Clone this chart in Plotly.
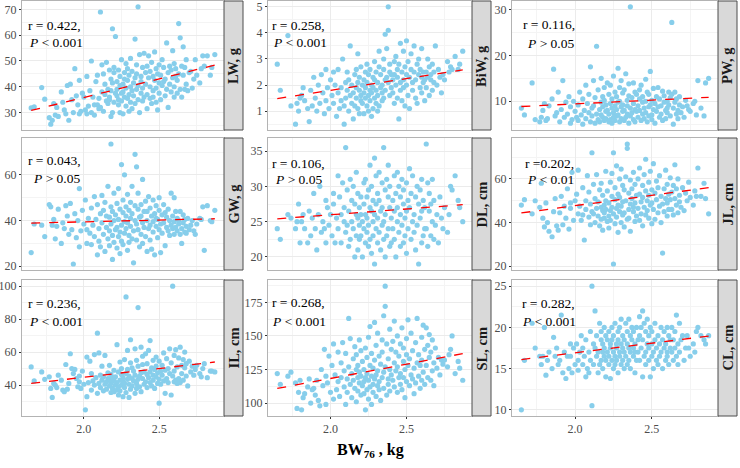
import plotly.graph_objects as go

# ---------------- data ----------------
bw76 = [1.65, 1.67, 1.72, 1.74, 1.77, 1.78, 1.79, 1.80,
        1.81, 1.82, 1.83, 1.85, 1.86, 1.87, 1.88, 1.89, 1.90, 1.91,
        1.92, 1.93, 1.94, 1.95, 1.96, 1.97, 1.97, 1.98, 1.99, 2.00,
        2.01, 2.02, 2.02, 2.03, 2.04, 2.05, 2.05, 2.06, 2.07, 2.07,
        2.08, 2.09, 2.09, 2.10, 2.10, 2.11, 2.11, 2.12, 2.12, 2.13,
        2.13, 2.14, 2.14, 2.15, 2.15, 2.16, 2.16, 2.17, 2.17, 2.17,
        2.18, 2.18, 2.18, 2.19, 2.19, 2.19, 2.20, 2.20, 2.20, 2.21,
        2.21, 2.22, 2.22, 2.22, 2.23, 2.23, 2.23, 2.24, 2.24, 2.24,
        2.25, 2.25, 2.25, 2.26, 2.26, 2.26, 2.27, 2.27, 2.27, 2.28,
        2.28, 2.28, 2.29, 2.29, 2.29, 2.30, 2.30, 2.30, 2.31, 2.31,
        2.31, 2.32, 2.32, 2.32, 2.33, 2.33, 2.34, 2.34, 2.34, 2.35,
        2.35, 2.35, 2.36, 2.36, 2.36, 2.37, 2.37, 2.38, 2.38, 2.38,
        2.39, 2.39, 2.39, 2.40, 2.40,
        2.41, 2.41, 2.42, 2.42, 2.42, 2.43, 2.43, 2.44, 2.44, 2.44,
        2.45, 2.45, 2.46, 2.46, 2.46, 2.47, 2.47, 2.48, 2.48, 2.48,
        2.49, 2.49, 2.50, 2.50, 2.50, 2.51, 2.51, 2.52, 2.52, 2.53,
        2.53, 2.54, 2.54, 2.55, 2.55, 2.56, 2.56, 2.57, 2.57, 2.58,
        2.58, 2.59, 2.59, 2.60, 2.60, 2.60, 2.61, 2.61, 2.62, 2.62,
        2.63, 2.63, 2.64, 2.64, 2.65, 2.65, 2.66, 2.66, 2.67, 2.67,
        2.68, 2.68, 2.69, 2.70, 2.71, 2.72, 2.73, 2.74, 2.75, 2.77,
        2.78, 2.79,
        2.80, 2.82, 2.84, 2.85, 2.87]

lw = [31.8, 32.2, 39.7, 35.2, 28.0, 25.5, 27.0, 33.5,
      29.0, 32.0, 28.5, 38.0, 34.0, 31.0, 29.5, 40.5, 27.0, 41.0,
      35.0, 30.0, 47.0, 36.5, 33.0, 29.5, 42.5, 30.5, 37.5, 36.0,
      31.0, 29.5, 44.0, 32.5, 38.5, 50.0, 30.0, 36.0, 33.0, 29.0,
      42.0, 33.0, 44.5, 31.5, 35.5, 69.0, 32.0, 48.5, 38.0, 30.5,
      45.0, 37.0, 41.0, 34.5, 49.5, 33.5, 39.0, 36.0, 46.5, 35.0,
      43.0, 28.5, 38.5, 41.5, 30.0, 62.5, 47.5, 34.0, 45.5, 37.5,
      59.5, 36.5, 39.0, 42.0, 33.0, 46.5, 35.0, 40.5, 30.0, 44.0,
      37.5, 50.5, 34.5, 41.0, 38.0, 29.5, 45.5, 36.0, 43.0, 49.0,
      39.5, 32.5, 47.0, 35.5, 42.5, 37.0, 30.5, 44.5, 40.0, 34.0,
      51.0, 38.5, 31.5, 46.0, 41.5, 36.5, 58.5, 43.5, 33.5, 48.5,
      39.0, 45.0, 35.0, 71.0, 40.5, 30.0, 52.5, 37.5, 44.0, 42.0,
      34.5, 47.5, 39.5, 53.0, 36.0,
      41.0, 45.5, 31.5, 48.0, 37.0, 43.5, 52.0, 35.5, 40.0, 46.0,
      33.5, 49.5, 38.5, 44.0, 36.0, 42.5, 53.5, 34.0, 47.0, 39.5,
      45.0, 31.0, 41.5, 48.5, 37.5, 44.5, 35.0, 50.5, 40.5, 42.0,
      47.5, 36.5, 43.0, 57.0, 39.0, 45.5, 32.0, 48.0, 41.0, 46.5,
      38.0, 54.0, 43.5, 36.0, 49.0, 40.0, 44.0, 47.0, 37.5, 42.5,
      64.5, 45.0, 59.0, 39.0, 48.0, 36.0, 55.5, 44.5, 39.0, 47.5,
      41.0, 50.5, 38.5, 45.5, 46.0, 39.5, 43.0, 50.5, 44.5, 41.5,
      47.0, 52.0,
      48.0, 52.0, 44.5, 47.5, 52.5]

biw = [2.8, 1.8, 3.9, 1.2, 0.5, 1.3, 1.0, 1.5,
       1.6, 1.9, 1.4, 1.1, 0.6, 1.8, 1.2, 2.3, 1.5, 1.0,
       2.0, 1.3, 2.4, 1.7, 0.9, 2.6, 1.4, 1.9, 1.1, 2.2,
       1.6, 2.5, 1.3, 2.0, 0.8, 1.7, 2.6, 1.1, 1.9, 1.4,
       3.0, 1.2, 0.5, 2.1, 1.5, 1.8, 2.5, 1.0, 2.2, 1.6,
       3.5, 1.3, 2.0, 0.7, 1.7, 2.4, 1.2, 1.9, 2.6, 1.5,
       3.2, 1.1, 2.1, 1.8, 0.9, 2.3, 1.4, 2.7, 1.6, 2.0,
       1.3, 2.2, 1.7, 0.9, 2.5, 1.5, 1.9, 2.8, 1.2, 2.1,
       1.6, 1.0, 2.4, 1.8, 1.4, 2.6, 0.8, 2.0, 1.7, 2.3,
       1.1, 1.9, 2.9, 1.5, 2.2, 1.3, 1.8, 2.5, 1.0, 2.1,
       1.6, 2.7, 1.2, 3.3, 1.9, 2.4, 1.4, 2.0, 1.7, 3.0,
       2.6, 1.5, 3.95, 2.2, 1.8, 3.4, 2.3, 5.0, 4.1, 2.1,
       1.6, 2.5, 2.8, 1.9, 2.4,
       2.2, 1.7, 2.9, 2.4, 1.3, 2.0, 3.1, 2.6, 1.5, 2.3,
       0.7, 2.8, 2.1, 1.8, 3.6, 2.5, 1.4, 2.2, 3.3, 1.9,
       2.7, 1.2, 2.4, 3.7, 2.0, 1.6, 2.9, 2.3, 1.1, 2.6,
       3.2, 2.1, 1.8, 2.5, 3.5, 1.5, 2.2, 2.8, 1.3, 2.4,
       3.0, 1.9, 2.6, 2.3, 1.7, 3.4, 2.1, 2.5, 1.4, 2.2,
       1.9, 2.5, 3.0, 2.3, 1.6, 2.7, 2.2, 2.4, 1.8, 2.8,
       2.1, 2.5, 3.5, 2.0, 2.6, 2.3, 1.7, 2.4, 2.2, 2.9,
       2.5, 2.7,
       2.6, 3.1, 2.6, 2.8, 3.3]

pw = [8.5, 7.0, 14.0, 6.0, 5.5, 6.5, 8.0, 9.5,
      5.8, 6.2, 9.0, 10.5, 17.0, 6.8, 7.5, 12.0, 5.5, 8.2,
      14.5, 6.5, 9.8, 7.2, 11.0, 5.2, 8.8, 6.0, 10.0, 7.8,
      6.5, 9.2, 5.8, 12.0, 7.0, 10.5, 5.0, 8.0, 13.5, 6.2,
      9.5, 7.5, 11.5, 5.5, 17.5, 8.5, 6.8, 14.5, 9.0, 5.2,
      10.8, 7.2, 22.0, 6.0, 12.5, 8.2, 5.5, 9.8, 15.0, 7.0,
      11.0, 6.5, 8.8, 13.0, 5.8, 10.2, 7.8, 9.2, 6.2, 14.0,
      8.0, 5.5, 11.5, 7.2, 9.5, 6.0, 13.5, 8.5, 5.2, 10.5,
      7.5, 15.5, 6.5, 9.0, 12.0, 5.8, 8.2, 11.0, 6.8, 17.2,
      9.8, 7.0, 13.0, 5.5, 10.0, 8.8, 6.2, 14.5, 7.8, 11.8,
      9.2, 5.8, 12.5, 8.0, 6.5, 16.0, 10.2, 7.2, 9.0, 13.8,
      5.2, 11.2, 8.5, 30.6, 6.8, 10.8, 7.5, 14.0, 9.5, 6.0,
      12.0, 8.2, 5.5, 11.5, 7.8,
      9.0, 6.5, 12.5, 8.0, 10.5, 5.8, 13.5, 7.2, 9.8, 11.0,
      6.2, 8.5, 14.8, 7.5, 10.0, 5.5, 12.0, 8.8, 6.8, 11.5,
      9.2, 16.5, 7.0, 10.2, 6.0, 12.8, 8.2, 9.5, 5.2, 11.0,
      7.8, 13.0, 8.8, 6.5, 10.5, 9.0, 7.2, 12.2, 5.8, 9.8,
      11.2, 8.0, 6.2, 10.0, 7.5, 8.5, 12.0, 9.2, 6.8, 10.8,
      11.5, 27.2, 8.5, 5.0, 9.8, 12.0, 7.2, 10.5, 8.0, 6.2,
      9.2, 11.0, 7.5, 8.8, 6.5, 10.2, 9.0, 8.2, 7.8, 9.5,
      10.0, 7.0,
      14.5, 8.5, 6.8, 14.0, 15.0]

gw = [26.0, 38.5, 38.0, 33.0, 47.0, 46.0, 38.0, 40.5,
      32.0, 37.5, 45.0, 30.0, 39.0, 36.5, 46.5, 42.0, 34.0, 47.5,
      36.0, 21.0, 43.0, 32.5, 40.0, 28.5, 54.0, 35.5, 44.5, 38.5,
      49.0, 36.0, 30.0, 41.0, 34.5, 45.5, 29.5, 38.0, 50.5, 33.0,
      40.5, 25.0, 47.0, 36.5, 31.0, 43.0, 28.5, 51.0, 39.0, 34.0,
      44.5, 26.5, 48.0, 37.0, 42.0, 32.0, 55.0, 35.5, 41.5, 29.0,
      46.0, 73.5, 38.5, 33.5, 23.0, 44.0, 40.0, 30.5, 52.0, 36.0,
      42.5, 28.0, 47.5, 37.0, 33.0, 54.0, 40.5, 25.5, 45.0, 35.0,
      64.5, 38.0, 31.0, 43.5, 49.0, 29.5, 39.5, 60.0, 34.5, 46.0,
      36.5, 42.0, 27.0, 51.5, 39.0, 33.5, 44.5, 30.5, 48.0, 41.0,
      37.5, 55.0, 32.0, 43.0, 35.5, 21.5, 46.5, 40.0, 69.0, 38.5,
      63.5, 31.5, 45.0, 36.0, 52.0, 41.5, 28.5, 47.0, 34.0, 42.0,
      39.0, 58.0, 30.0, 44.0, 37.0,
      33.0, 48.5, 40.0, 26.5, 44.0, 36.5, 50.5, 38.0, 31.5, 45.5,
      42.0, 27.5, 39.5, 49.0, 35.0, 43.0, 25.0, 41.0, 37.5, 46.5,
      32.5, 40.5, 50.0, 36.0, 44.5, 26.0, 38.5, 42.5, 34.5, 47.0,
      39.0, 29.0, 43.5, 37.0, 41.5, 35.5, 45.0, 33.5, 40.0, 52.0,
      38.0, 36.5, 42.0, 50.0, 34.0, 39.5, 44.0, 37.0, 41.0, 35.5,
      40.0, 38.5, 34.0, 44.0, 36.5, 30.0, 39.0, 42.5, 35.0, 40.5,
      37.5, 34.5, 41.0, 36.0, 38.0, 40.0, 35.5, 34.0, 38.5, 41.0,
      40.5, 46.0,
      27.0, 46.5, 40.0, 39.5, 44.5]

dl = [24.0, 22.5, 26.0, 25.5, 24.0, 25.0, 27.5, 22.0,
      25.0, 26.0, 24.0, 22.0, 26.5, 23.0, 25.5, 29.0, 24.0, 21.0,
      26.0, 30.0, 23.5, 25.0, 24.0, 28.0, 22.0, 27.0, 24.5, 26.0,
      23.0, 27.5, 29.0, 22.0, 25.5, 31.5, 24.0, 28.5, 26.0, 22.0,
      30.5, 25.0, 27.0, 35.5, 23.5, 29.5, 24.5, 21.5, 26.5, 31.0,
      22.5, 28.0, 25.0, 30.0, 24.0, 20.0, 27.5, 23.0, 26.0, 32.0,
      25.5, 21.0, 29.0, 24.5, 27.0, 22.5, 26.0, 28.5, 23.0, 20.0,
      25.0, 30.5, 24.0, 27.5, 22.0, 26.0, 31.0, 23.5, 28.5, 25.5,
      21.5, 29.5, 24.5, 27.0, 33.0, 22.5, 26.5, 20.5, 30.0, 25.0,
      28.0, 23.0, 34.0, 19.0, 26.0, 31.5, 24.0, 27.5, 22.0, 29.0,
      25.5, 32.0, 23.5, 28.0, 21.0, 26.5, 30.5, 24.5, 27.0, 22.5,
      35.5, 25.0, 29.5, 20.0, 26.0, 31.0, 23.0, 28.5, 24.0, 33.0,
      27.0, 21.5, 30.0, 25.5, 22.0,
      28.0, 24.0, 31.5, 26.5, 22.5, 29.0, 20.0, 27.0, 32.0, 25.0,
      23.5, 30.0, 26.0, 21.5, 28.5, 24.5, 31.0, 27.5, 22.0, 29.5,
      25.5, 23.0, 30.5, 26.5, 20.5, 28.0, 24.0, 32.5, 27.0, 22.5,
      29.0, 25.0, 31.5, 23.5, 26.0, 28.5, 21.0, 30.0, 24.5, 27.5,
      19.0, 29.5, 25.5, 22.0, 31.0, 26.5, 23.0, 28.0, 24.0, 27.0,
      36.0, 24.0, 30.5, 21.5, 26.5, 29.0, 23.0, 27.5, 25.0, 31.0,
      22.5, 28.0, 24.5, 26.0, 22.0, 28.5, 25.5, 24.0, 27.0, 23.5,
      26.0, 30.0,
      29.5, 31.5, 28.0, 27.0, 25.0]

jl = [48.0, 50.5, 44.0, 50.0, 47.0, 58.0, 42.0, 38.0,
      49.0, 40.0, 36.0, 33.5, 45.0, 51.0, 38.5, 36.5, 44.5, 52.0,
      39.0, 47.5, 42.0, 55.5, 37.0, 49.0, 46.5, 63.0, 41.0, 50.0,
      53.0, 44.0, 64.0, 47.5, 41.0, 56.0, 43.5, 32.0, 50.0, 46.0,
      61.5, 42.5, 54.0, 39.0, 48.5, 45.0, 72.0, 44.0, 57.5, 40.0,
      51.0, 46.5, 62.0, 43.0, 49.5, 38.5, 55.0, 47.0, 41.5, 58.0,
      45.5, 36.5, 52.5, 44.5, 48.0, 42.0, 63.5, 50.0, 46.0, 40.5,
      54.5, 43.0, 49.0, 37.5, 58.5, 45.5, 41.0, 62.5, 47.0, 52.0,
      21.0, 72.0, 44.0, 50.5, 39.5, 56.0, 46.5, 66.0, 42.5, 53.0,
      48.0, 35.5, 60.0, 45.0, 51.5, 40.0, 64.5, 47.5, 43.5, 57.0,
      49.5, 38.0, 55.0, 44.5, 61.0, 50.0, 41.5, 76.0, 74.0, 46.0,
      53.5, 42.0, 59.5, 48.5, 36.0, 55.5, 51.0, 45.0, 63.0, 47.0,
      40.5, 57.5, 49.0, 43.0, 52.5,
      60.0, 46.5, 53.0, 41.0, 65.0, 49.5, 44.0, 57.0, 51.5, 38.5,
      62.0, 47.0, 54.5, 43.5, 69.0, 50.0, 45.5, 58.5, 42.0, 52.5,
      48.0, 63.5, 55.0, 39.5, 49.0, 67.0, 46.0, 53.5, 41.5, 59.0,
      50.5, 44.5, 56.0, 47.5, 61.5, 52.0, 40.0, 48.5, 26.0, 55.5,
      45.0, 64.0, 51.0, 43.0, 57.5, 49.0, 53.0, 46.0, 60.5, 50.5,
      54.0, 46.0, 57.0, 43.5, 66.5, 51.0, 48.0, 55.5, 44.5, 60.0,
      49.5, 52.5, 47.0, 56.0, 45.5, 53.5, 50.0, 58.5, 51.5, 48.0,
      54.5, 52.0,
      65.0, 52.0, 58.0, 51.0, 44.0]

il = [51.0, 42.5, 48.0, 43.5, 45.0, 38.0, 32.5, 41.0,
      40.0, 38.5, 46.0, 43.0, 37.0, 36.0, 52.5, 37.5, 41.0, 59.0,
      50.0, 47.0, 49.5, 44.0, 39.0, 42.0, 45.5, 38.0, 48.5, 40.5,
      25.0, 33.0, 57.0, 41.5, 54.5, 47.0, 37.0, 42.5, 58.5, 40.0,
      44.5, 35.0, 71.5, 41.0, 59.5, 38.5, 46.0, 43.0, 51.5, 36.5,
      45.0, 40.5, 58.0, 42.0, 37.5, 47.5, 44.0, 39.5, 52.0, 43.5,
      35.5, 41.0, 46.5, 38.0, 44.5, 42.5, 49.0, 36.0, 43.0, 40.0,
      45.0, 37.0, 64.5, 41.5, 34.0, 48.0, 39.0, 54.0, 43.0, 36.5,
      46.5, 40.0, 50.0, 33.0, 44.5, 42.0, 38.5, 55.5, 41.0, 93.5,
      47.0, 35.5, 61.0, 43.5, 49.5, 32.5, 45.5, 40.5, 53.5, 37.5,
      67.5, 44.0, 39.5, 50.5, 42.5, 48.5, 35.0, 62.0, 46.0, 41.0,
      55.0, 38.0, 87.0, 43.5, 51.5, 45.5, 39.0, 63.0, 47.5, 36.0,
      52.5, 44.0, 57.5, 40.5, 48.0,
      42.0, 59.0, 46.5, 38.5, 53.0, 44.5, 61.0, 48.0, 41.5, 67.0,
      50.5, 39.5, 46.0, 55.0, 43.0, 49.5, 38.0, 57.0, 45.0, 51.5,
      41.0, 47.5, 29.0, 54.5, 43.5, 48.5, 40.5, 52.0, 46.0, 59.5,
      42.5, 49.0, 35.0, 56.0, 44.0, 50.0, 41.5, 62.0, 47.0, 34.0,
      53.5, 45.5, 100.0, 42.0, 58.0, 48.5, 43.0, 61.5, 41.0, 51.0,
      56.5, 44.0, 63.0, 41.5, 52.0, 47.0, 55.5, 43.0, 50.5, 60.0,
      45.5, 53.0, 39.5, 54.5, 48.0, 51.5, 46.0, 49.5, 52.0, 47.0,
      45.0, 50.0,
      53.0, 44.5, 48.5, 48.5, 48.0]

sl = [122.0, 114.0, 120.0, 123.0, 115.0, 96.0, 108.0, 117.0,
      95.0, 104.0, 107.0, 112.0, 118.0, 100.0, 110.0, 111.0, 106.0, 117.0,
      102.0, 98.0, 125.0, 113.0, 140.0, 120.0, 99.0, 115.0, 135.0, 108.0,
      128.0, 103.0, 144.0, 121.0, 110.0, 138.0, 116.0, 105.0, 130.0, 119.0,
      145.0, 112.0, 124.0, 99.0, 137.0, 118.0, 108.0, 163.0, 127.0, 114.0,
      148.0, 122.0, 104.0, 133.0, 117.0, 142.0, 111.0, 125.0, 101.0, 136.0,
      119.0, 128.0, 109.0, 147.0, 115.0, 123.0, 106.0, 139.0, 120.0, 113.0,
      131.0, 107.0, 125.0, 116.0, 95.0, 141.0, 119.0, 110.0, 134.0, 122.0,
      103.0, 149.0, 117.0, 128.0, 112.0, 157.0, 120.0, 99.0, 137.0, 114.0,
      126.0, 108.0, 160.0, 118.0, 132.0, 105.0, 143.0, 121.0, 113.0, 152.0,
      124.0, 110.0, 135.0, 116.0, 129.0, 102.0, 147.0, 119.0, 138.0, 111.0,
      165.0, 123.0, 187.0, 172.0, 127.0, 106.0, 144.0, 118.0, 133.0, 114.0,
      155.0, 125.0, 109.0, 140.0, 121.0,
      146.0, 117.0, 130.0, 112.0, 161.0, 124.0, 138.0, 108.0, 127.0, 150.0,
      119.0, 135.0, 114.0, 144.0, 122.0, 156.0, 110.0, 131.0, 119.0, 141.0,
      125.0, 104.0, 148.0, 116.0, 136.0, 128.0, 162.0, 113.0, 133.0, 121.0,
      152.0, 118.0, 139.0, 107.0, 126.0, 145.0, 115.0, 130.0, 163.0, 120.0,
      136.0, 111.0, 128.0, 149.0, 117.0, 132.0, 158.0, 123.0, 140.0, 114.0,
      156.0, 128.0, 143.0, 119.0, 151.0, 134.0, 117.0, 138.0, 124.0, 147.0,
      130.0, 113.0, 141.0, 126.0, 134.0, 121.0, 132.0, 129.0, 132.0, 127.0,
      136.0, 140.0,
      150.0, 122.0, 131.0, 126.0, 117.0]

cl = [10.0, 16.0, 20.5, 17.5, 16.5, 15.5, 16.5, 20.0,
      14.2, 16.0, 17.0, 15.0, 18.8, 16.5, 17.5, 15.5, 16.0, 21.5,
      14.5, 17.0, 13.8, 16.5, 15.0, 18.0, 16.5, 14.5, 17.5, 15.5,
      18.0, 16.0, 14.8, 17.0, 19.0, 15.5, 17.5, 16.5, 14.0, 18.5,
      15.0, 17.0, 14.5, 19.5, 16.0, 25.0, 10.5, 18.0, 15.5, 17.5,
      22.0, 16.5, 19.0, 14.5, 17.0, 20.5, 15.5, 18.5, 16.0, 19.5,
      17.0, 15.0, 18.0, 20.0, 16.5, 17.5, 14.0, 19.0, 16.0, 18.5,
      17.0, 15.5, 19.5, 16.5, 18.0, 13.8, 17.5, 20.0, 16.0, 18.5,
      15.0, 19.0, 17.0, 16.5, 20.5, 15.5, 18.0, 17.5, 16.0, 19.5,
      14.5, 18.5, 17.0, 20.0, 16.5, 15.5, 18.0, 21.0, 17.5, 16.0,
      19.0, 15.0, 18.5, 17.0, 20.5, 16.5, 19.5, 15.5, 18.0, 17.5,
      21.0, 16.0, 19.0, 17.0, 15.0, 18.5, 20.0, 16.5, 17.5, 19.5,
      14.5, 18.0, 17.0, 20.0, 16.0,
      18.5, 17.0, 21.3, 19.0, 16.0, 20.0, 17.5, 22.0, 14.0, 18.5,
      16.5, 20.5, 17.0, 19.5, 15.5, 18.0, 21.0, 16.0, 19.0, 17.5,
      14.0, 20.0, 18.0, 16.5, 19.5, 17.0, 15.0, 18.5, 20.5, 16.0,
      17.5, 19.0, 15.5, 18.0, 16.5, 20.0, 17.0, 18.5, 15.0, 19.5,
      17.5, 16.0, 18.0, 20.0, 16.5, 17.0, 19.0, 15.5, 18.5, 17.5,
      20.0, 17.0, 18.5, 16.0, 19.5, 17.5, 21.5, 16.5, 18.0, 15.5,
      20.5, 17.0, 18.5, 19.0, 16.0, 17.5, 19.0, 17.5, 16.5, 18.0,
      17.0, 19.5,
      20.0, 19.0, 18.5, 18.0, 19.0]

panel_labels = ["LW, g", "BiW, g", "PW, g",
                "GW, g", "DL, cm", "JL, cm",
                "IL, cm", "SL, cm", "CL, cm"]
r_labels = ["r = 0.422,", "r = 0.258,", "r = 0.116,",
            "r = 0.043,", "r = 0.106,", "r =0.202,",
            "r = 0.236,", "r = 0.268,", "r = 0.282,"]
p_labels = ["<i>P</i> < 0.001", "<i>P</i> < 0.001", "<i>P</i> > 0.05",
            "<i>P</i> > 0.05", "<i>P</i> > 0.05", "<i>P</i> < 0.01",
            "<i>P</i> < 0.001", "<i>P</i> < 0.001", "<i>P</i> < 0.001"]
# fitted line values at the smallest and largest BW76
trend_start = [30.8, 1.48, 8.85, 38.9, 25.4, 44.4, 41.0, 110.9, 16.1]
trend_end = [48.4, 2.58, 10.85, 40.8, 27.4, 56.0, 54.0, 136.8, 18.95]
y_tick_step = [10, 1, 10, 20, 5, 20, 20, 25, 5]

series = [lw, biw, pw, gw, dl, jl, il, sl, cl]
for s in series:
    assert len(s) == len(bw76), len(s)

# ---------------- layout geometry (pixels) ----------------
W, H = 740, 468
col_px = [(22, 224), (268, 472), (512, 718)]
strip_px = [(224, 243), (472, 491), (718, 737)]
row_px = [(1, 130), (138, 270), (280, 416)]
r_pos = [(26, 25), (270, 25), (521, 24),
         (26, 160), (270, 163), (523, 163),
         (26, 303), (270, 302), (520, 303)]
p_pos = [(27, 42), (271, 42), (525, 43),
         (31, 178), (273, 179), (525, 179),
         (27, 321), (270, 321), (520, 321)]

SERIF = "Liberation Serif"
GRID = "#EBEBEB"
MINOR = "#F4F4F4"

def px(x):
    return x / W

def py(y):
    return 1 - y / H

xmin, xmax = min(bw76), max(bw76)
xpad = (xmax - xmin) * 0.05
xrange = [xmin - xpad, xmax + xpad]

fig = go.Figure()
layout = dict(
    width=W, height=H, margin=dict(l=0, r=0, t=0, b=0, autoexpand=False),
    paper_bgcolor="white", plot_bgcolor="white", showlegend=False,
    font=dict(family=SERIF, color="#000000"),
)
shapes = []
annotations = []

for i in range(9):
    r, c = divmod(i, 3)
    n = "" if i == 0 else str(i + 1)
    ys = series[i]
    fig.add_trace(go.Scatter(
        x=bw76, y=ys, mode="markers",
        marker=dict(color="#87CEEB", size=5.2, line=dict(width=0)),
        xaxis="x" + n, yaxis="y" + n, hoverinfo="skip"))
    fig.add_trace(go.Scatter(
        x=[xmin, xmax], y=[trend_start[i], trend_end[i]], mode="lines",
        line=dict(color="#FF0000", width=1.3, dash="dash"),
        xaxis="x" + n, yaxis="y" + n, hoverinfo="skip"))

    ymin, ymax = min(ys), max(ys)
    ypad = (ymax - ymin) * 0.05
    x0, x1 = col_px[c]
    y0, y1 = row_px[r]
    layout["xaxis" + n] = dict(
        domain=[px(x0), px(x1)], anchor="y" + n, range=xrange,
        dtick=0.5, tick0=0, tickformat=".1f", automargin=False,
        showticklabels=(r == 2), ticks="outside" if r == 2 else "",
        ticklen=2, tickcolor="#333333",
        tickfont=dict(family=SERIF, size=12, color="#4D4D4D"),
        showgrid=True, gridcolor=GRID, gridwidth=1,
        minor=dict(dtick=0.25, showgrid=True, gridcolor=MINOR, gridwidth=0.6),
        showline=True, linecolor="#B3B3B3", linewidth=1, mirror=True,
        zeroline=False, fixedrange=True)
    layout["yaxis" + n] = dict(
        domain=[py(y1), py(y0)], anchor="x" + n,
        range=[ymin - ypad, ymax + ypad], automargin=False,
        dtick=y_tick_step[i], tick0=0,
        ticks="outside", ticklen=2, tickcolor="#333333",
        tickfont=dict(family=SERIF, size=12, color="#4D4D4D"),
        showgrid=True, gridcolor=GRID, gridwidth=1,
        minor=dict(dtick=y_tick_step[i] / 2, showgrid=True, gridcolor=MINOR,
                   gridwidth=0.6),
        showline=True, linecolor="#B3B3B3", linewidth=1, mirror=True,
        zeroline=False, fixedrange=True)

    # facet strip on the right
    s0, s1 = strip_px[c]
    shapes.append(dict(type="rect", xref="paper", yref="paper",
                       x0=px(s0), x1=px(s1), y0=py(y1), y1=py(y0),
                       fillcolor="#D9D9D9", line=dict(color="#4D4D4D", width=1),
                       layer="above"))
    annotations.append(dict(
        xref="paper", yref="paper", x=px((s0 + s1) / 2), y=py((y0 + y1) / 2),
        text="<b>" + panel_labels[i] + "</b>", showarrow=False, textangle=-90,
        font=dict(family=SERIF, size=14.5, color="#1A1A1A"),
        xanchor="center", yanchor="middle"))

    # correlation labels
    annotations.append(dict(
        xref="paper", yref="paper", x=px(r_pos[i][0]), y=py(r_pos[i][1]),
        text=r_labels[i], showarrow=False, xanchor="left", yanchor="middle",
        font=dict(family=SERIF, size=13.5, color="#000000")))
    annotations.append(dict(
        xref="paper", yref="paper", x=px(p_pos[i][0]), y=py(p_pos[i][1]),
        text=p_labels[i], showarrow=False, xanchor="left", yanchor="middle",
        font=dict(family=SERIF, size=13.5, color="#000000")))

annotations.append(dict(
    xref="paper", yref="paper", x=px(370), y=py(450),
    text="<b>BW<sub>76</sub> , kg</b>", showarrow=False,
    xanchor="center", yanchor="middle",
    font=dict(family=SERIF, size=16, color="#000000")))

layout["shapes"] = shapes
layout["annotations"] = annotations
fig.update_layout(**layout)

fig.write_html(
    "out.html",
    config={"displayModeBar": False},
    post_script="document.body.style.margin='0';"
                "document.body.style.padding='0';"
                "document.body.style.overflow='hidden';")
